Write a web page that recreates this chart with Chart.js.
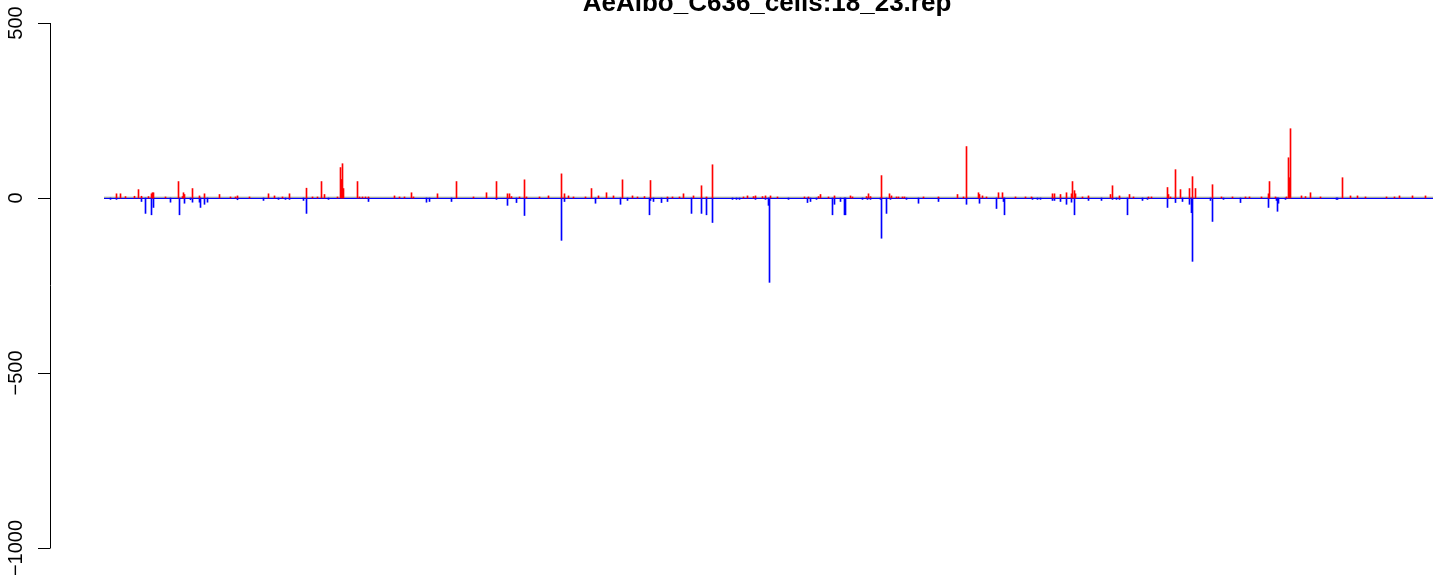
<!DOCTYPE html>
<html>
<head>
<meta charset="utf-8">
<title>AeAlbo_C636_cells:18_23.rep</title>
<script src="https://cdn.jsdelivr.net/npm/chart.js@4.4.0/dist/chart.umd.min.js"></script>
<style>
  html, body { margin: 0; padding: 0; background: #fff; }
  #wrap { width: 1444px; height: 583px; }
</style>
</head>
<body>
<div id="wrap"><canvas id="myChart"></canvas></div>
<script>
// Title and y tick labels
const chartTitle = 'AeAlbo_C636_cells:18_23.rep';
const yTicks = [500, 0, -500, -1000];

// Plus strand counts (red), position along the reference
const plusPos = [12, 16, 21, 30, 34, 37, 44, 47, 48, 49, 61, 74, 78, 79, 80, 88, 95, 100, 115, 126, 131, 133, 145, 164, 170, 178, 185, 202, 208, 213, 217, 220,
  233, 236, 237, 238, 239, 253, 255, 258, 261, 264, 290, 295, 300, 307, 309, 333, 352, 369, 382, 392, 403, 405, 407, 415, 420, 422, 435, 444,
  457, 460, 464, 469, 481, 487, 494, 502, 509, 518, 528, 533, 540, 546, 563, 568, 575, 579, 589, 597, 602, 608, 639, 643, 649, 651, 658, 661, 666,
  673, 700, 704, 714, 716, 724, 730, 746, 748, 762, 764, 766, 777, 785, 787, 792, 794, 798, 800, 819, 834, 853, 859, 862, 874, 875, 878, 882, 894,
  898, 911, 921, 927, 948, 950, 956, 962, 967, 968, 970, 971, 978, 984, 1006, 1008, 1015, 1025, 1029, 1044, 1047, 1063, 1064, 1066, 1071, 1076, 1085, 1088, 1091, 1108, 1117,
  1128, 1141, 1145, 1157, 1164, 1165, 1171, 1182, 1184, 1185, 1186, 1197, 1201, 1206, 1216, 1238, 1246, 1253, 1261, 1282, 1290, 1295, 1308, 1321];
const plusVal = [12, 12, 4, 5, 24, 5, 4, 12, 15, 15, 3, 47, 4, 15, 10, 27, 6, 12, 10, 3, 3, 6, 3, 12, 6, 3, 12, 28, 3, 3, 47, 10,
  3, 87, 53, 98, 27, 47, 3, 3, 3, 3, 6, 3, 3, 15, 3, 12, 47, 3, 15, 47, 12, 12, 4, 3, 52, 3, 3, 6,
  69, 12, 6, 3, 3, 27, 6, 15, 6, 52, 6, 3, 4, 50, 3, 3, 3, 12, 6, 35, 3, 95, 3, 6, 4, 6, 4, 6, 6,
  3, 3, 3, 4, 10, 3, 6, 6, 3, 4, 12, 4, 64, 12, 6, 3, 3, 3, 3, 3, 3, 10, 3, 147, 15, 10, 6, 3, 15,
  15, 3, 3, 3, 12, 12, 10, 15, 12, 47, 21, 12, 3, 6, 10, 35, 6, 10, 3, 3, 3, 30, 10, 3, 81, 24, 27, 61, 27, 38, 3,
  3, 3, 3, 3, 12, 47, 3, 3, 115, 58, 198, 6, 4, 15, 3, 58, 6, 6, 3, 3, 3, 6, 6, 6];

// Minus strand counts (blue)
const minusPos = [6, 12, 37, 41, 47, 49, 66, 75, 80, 86, 88, 95, 96, 100, 103, 133, 159, 174, 181, 185, 199, 202,
  224, 264, 322, 325, 347, 392, 403, 412, 420,
  457, 460, 491, 516, 523, 545, 546, 549, 557, 563, 587, 597, 602, 608, 628, 632, 635, 651, 661, 664, 665,
  684, 703, 706, 712, 728, 730, 736, 740, 741, 758, 763, 766, 776, 777, 782, 786, 802, 814, 834, 862, 875, 892,
  899, 900, 928, 933, 936, 948, 950, 956, 962, 967, 970, 984, 997, 1008, 1012, 1015, 1023, 1038, 1043, 1063, 1071, 1078, 1085, 1087, 1088, 1106, 1108, 1119,
  1136, 1164, 1172, 1173, 1174, 1181, 1232, 1233];
const minusVal = [-4, -4, -10, -44, -48, -27, -12, -48, -15, -5, -12, -12, -27, -18, -12, -5, -7, -4, -4, -4, -7, -44,
  -4, -10, -12, -10, -10, -4, -21, -13, -50,
  -121, -10, -15, -18, -7, -48, -7, -10, -13, -10, -44, -44, -48, -70, -4, -4, -4, -4, -4, -21, -241,
  -4, -13, -10, -4, -48, -18, -10, -48, -48, -4, -4, -4, -4, -115, -44, -4, -4, -15, -10, -18, -15, -30,
  -10, -48, -4, -4, -4, -7, -7, -10, -18, -12, -48, -7, -7, -4, -4, -4, -48, -7, -4, -27, -13, -10, -18, -42, -181, -7, -67, -4,
  -13, -27, -7, -38, -15, -4, -4, -4];

const firstPos = 0;
const lastPos = 1328;

const fontFamily = "'Liberation Sans', Arial, Helvetica, sans-serif";

// zero line, y axis and title drawn like the R plot
const rPlotLook = {
  id: 'rPlotLook',
  beforeDatasetsDraw(chart) {
    const ctx = chart.ctx;
    const x = chart.scales.x;
    const y = chart.scales.y;
    const x0 = x.getPixelForValue(firstPos) - 0.5;
    const x1 = x.getPixelForValue(lastPos) + 0.5;
    const y0 = y.getPixelForValue(0);
    ctx.save();
    ctx.fillStyle = '#a6a6a6';
    ctx.fillRect(x0, y0 - 1.3, x1 - x0, 1.6);
    ctx.fillStyle = '#0000ff';
    ctx.fillRect(x0, y0, x1 - x0, 1);
    ctx.restore();
  },
  afterDraw(chart) {
    const ctx = chart.ctx;
    const y = chart.scales.y;
    const axisX = 50.5;
    ctx.save();
    ctx.strokeStyle = '#000';
    ctx.lineWidth = 1;
    ctx.beginPath();
    ctx.moveTo(axisX, y.getPixelForValue(yTicks[0]));
    ctx.lineTo(axisX, y.getPixelForValue(yTicks[yTicks.length - 1]));
    yTicks.forEach(t => {
      const py = Math.round(y.getPixelForValue(t)) + 0.5;
      ctx.moveTo(axisX, py);
      ctx.lineTo(38, py);
    });
    ctx.stroke();

    ctx.fillStyle = '#000';
    ctx.font = '20px ' + fontFamily;
    ctx.textAlign = 'center';
    ctx.textBaseline = 'alphabetic';
    yTicks.forEach(t => {
      const py = y.getPixelForValue(t);
      ctx.save();
      ctx.translate(22, py);
      ctx.rotate(-Math.PI / 2);
      ctx.fillText(String(t).replace('-', '\u2212'), 0, 0);
      ctx.restore();
    });

    ctx.font = 'bold 26px ' + fontFamily;
    ctx.fillText(chartTitle, 767, 11);
    ctx.restore();
  }
};

function drawChart() {
  const ctx = document.getElementById('myChart').getContext('2d');
  const myChart = new Chart(ctx, {
    type: 'bar',
    data: {
      datasets: [{
        label: 'plus',
        data: plusPos.map((p, i) => ({ x: p, y: plusVal[i] })),
        backgroundColor: '#ff0000',
        barThickness: 1,
        grouped: false,
      }, {
        label: 'minus',
        data: minusPos.map((p, i) => ({ x: p, y: minusVal[i] })),
        backgroundColor: '#0000ff',
        barThickness: 1,
        grouped: false,
      }]
    },
    options: {
      responsive: true,
      maintainAspectRatio: false,
      animation: false,
      events: [],
      layout: { padding: { left: 50, right: 4, top: 23, bottom: 35 } },
      plugins: {
        legend: { display: false },
        tooltip: { enabled: false },
        title: { display: false }
      },
      scales: {
        x: { type: 'linear', offset: false, min: -54.5, max: 1335.5, display: false },
        y: { min: -1000, max: 500, display: false }
      }
    },
    plugins: [rPlotLook]
  });
}

drawChart();
</script>
</body>
</html>
